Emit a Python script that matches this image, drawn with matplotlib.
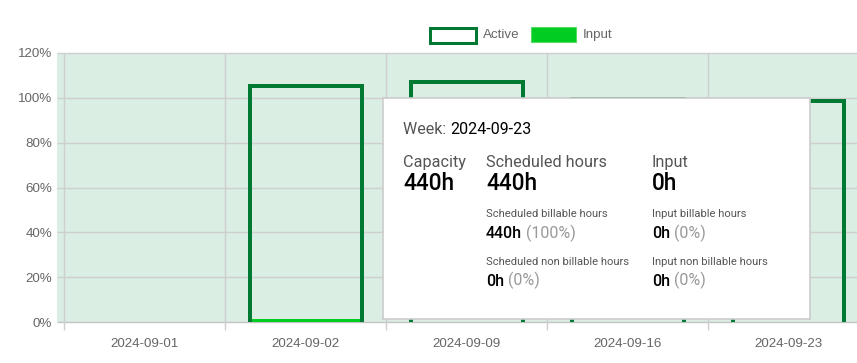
import matplotlib
matplotlib.use("Agg")
import matplotlib.pyplot as plt
from matplotlib.patches import Rectangle
from matplotlib.ticker import FixedLocator, FuncFormatter

W, H = 857, 363
DPI = 100

weeks = ["2024-09-01", "2024-09-02", "2024-09-09", "2024-09-16", "2024-09-23"]
active = [None, 106, 108, 100.3, 99.6]
input_pct = [0, 1.3, 0, 0, 0]
y_ticks = [0, 20, 40, 60, 80, 100, 120]

DARK = "#007a33"
BRIGHT = "#00cc22"
BG = "#daeee3"
GRID = "#cfcfcf"
TICK = "#666666"

fig = plt.figure(figsize=(W / DPI, H / DPI), dpi=DPI, facecolor="white")
renderer = fig.canvas.get_renderer()

# plot area in pixels (chart extends a little past the right edge)
px_l, px_r, px_t, px_b = 64.3, 869.0, 52.7, 322.3
ax = fig.add_axes([px_l / W, (H - px_b) / H, (px_r - px_l) / W, (px_b - px_t) / H])
ax.set_facecolor("none")
ax.set_xlim(-0.5, len(weeks) - 0.5)
ax.set_ylim(0, 120)

# green background also under the tick marks
bg = Rectangle((-(px_l - 56.7) / (px_r - px_l), 0), 1.2, 1, transform=ax.transAxes,
               facecolor=BG, edgecolor="none", zorder=0, clip_on=False)
ax.add_patch(bg)

for s in ax.spines.values():
    s.set_visible(False)

ax.yaxis.set_major_locator(FixedLocator(y_ticks))
ax.yaxis.set_major_formatter(FuncFormatter(lambda v, p: f"{int(v)}%"))
ax.set_xticks(range(len(weeks)))
ax.set_xticklabels(weeks)
ax.tick_params(axis="both", length=0, colors=TICK, labelsize=9.6)
ax.tick_params(axis="y", pad=8.6)
ax.tick_params(axis="x", pad=11.5)
for lab in ax.get_xticklabels() + ax.get_yticklabels():
    lab.set_fontfamily("Liberation Sans")

# grid lines
for v in y_ticks:
    ax.plot([-0.5 - 7.6 / 161, len(weeks) - 0.5], [v, v], color="#c4c4c4" if v == 0 else GRID,
            lw=1.0, zorder=1, clip_on=False, solid_capstyle="butt")
for i in range(len(weeks)):
    ax.plot([i - 0.5, i - 0.5], [-8 / 2.247, 120], color=GRID, lw=1.0, zorder=1,
            clip_on=False, solid_capstyle="butt")

bw = 0.72
# input bars
ax.bar(range(len(weeks)), input_pct, width=bw, color=BRIGHT, zorder=2)

# active bars: border on left, top and right only (base skipped), drawn inside the bar
dx = 2.0 / 161.0
dy = 2.0 / 2.247
for i, v in enumerate(active):
    if v is None:
        continue
    l, r = i - bw / 2 + dx, i + bw / 2 - dx
    ax.plot([l, l, r, r], [0, v - dy, v - dy, 0], color=DARK, lw=4 * 0.72,
            solid_joinstyle="miter", solid_capstyle="butt", zorder=3)

# legend
def fig_rect(x0, y0, x1, y1, **kw):
    fig.add_artist(Rectangle((x0 / W, 1 - y1 / H), (x1 - x0) / W, (y1 - y0) / H,
                             transform=fig.transFigure, **kw))

fig_rect(429.5, 27.5, 476.2, 42.5, facecolor="white", edgecolor=DARK, lw=3 * 0.72)
fig.text(483 / W, 1 - 35 / H, "Active", color=TICK, fontsize=9.6, va="center",
         family="Liberation Sans")
fig_rect(530.5, 27.5, 575.5, 41.5, facecolor=BRIGHT, edgecolor="#55dd66", lw=0.8)
fig.text(583 / W, 1 - 35 / H, "Input", color=TICK, fontsize=9.6, va="center",
         family="Liberation Sans")

# tooltip
tx0, ty0, tx1, ty1 = 383.3, 97.7, 810.0, 319.3
tt = fig.add_axes([tx0 / W, 1 - ty1 / H, (tx1 - tx0) / W, (ty1 - ty0) / H])
tt.set_xlim(tx0, tx1)
tt.set_ylim(ty1, ty0)
tt.set_xticks([])
tt.set_yticks([])
tt.set_facecolor("white")
for s in tt.spines.values():
    s.set_color("#cccccc")
    s.set_linewidth(1.2)

FONT = "Roboto"
GRAY = "#555555"
LIGHT = "#999999"


def pair(x, y, a, b, size, ca, cb, wa="normal", wb="normal"):
    t1 = tt.text(x, y, a, color=ca, fontsize=size, family=FONT, weight=wa, va="baseline")
    w_px = t1.get_window_extent(renderer).width
    tt.text(x + w_px, y, b, color=cb, fontsize=size, family=FONT, weight=wb, va="baseline")


pair(403, 134, "Week: ", "2024-09-23", 11.5, GRAY, "black")

cols = [403, 486, 652]
heads = ["Capacity", "Scheduled hours", "Input"]
bigs = ["440h", "440h", "0h"]
for x, h, b in zip(cols, heads, bigs):
    tt.text(x, 167, h, color=GRAY, fontsize=11.7, family=FONT, va="baseline")
    tt.text(x, 190.5, b, color="black", fontsize=16.3, family=FONT, weight="medium",
            va="baseline")

subs = [
    (486, "Scheduled billable hours", "440h", " (100%)"),
    (652, "Input billable hours", "0h", " (0%)"),
]
subs2 = [
    (486, "Scheduled non billable hours", "0h", " (0%)"),
    (652, "Input non billable hours", "0h", " (0%)"),
]
for row, (yl, yv) in zip([subs, subs2], [(217, 238), (265, 285.5)]):
    for x, lab, v, pc in row:
        tt.text(x, yl, lab, color=GRAY, fontsize=8.1, family=FONT, va="baseline")
        pair(x, yv, v, pc, 11.5, "black", LIGHT, wa="medium")

fig.savefig("out.png", dpi=DPI, facecolor="white")
